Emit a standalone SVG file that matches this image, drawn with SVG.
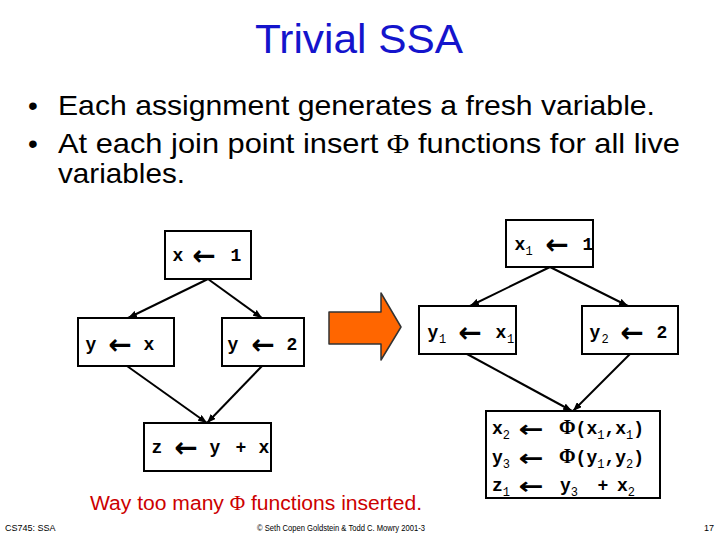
<svg xmlns="http://www.w3.org/2000/svg" width="720" height="540" viewBox="0 0 720 540">
<style>
.box{fill:#fff;stroke:#000;stroke-width:2}
.edge{stroke:#000;stroke-width:2;fill:none;marker-end:url(#ah)}
.c{font-family:"Liberation Mono","Courier New",monospace;font-weight:bold;font-size:18px;fill:#000;text-anchor:middle}
.s{text-anchor:start}
.ar{font-family:"DejaVu Sans",sans-serif;font-weight:bold;font-size:28px}
.ar2{font-family:"DejaVu Sans",sans-serif;font-weight:bold;font-size:23px}
.sb{font-size:12px;font-weight:normal}
.ph{font-family:"Liberation Serif",serif;font-weight:bold;font-size:20px}
.body{font-family:"Liberation Sans",Arial,sans-serif;font-size:28px;fill:#000}
.foot{font-family:"Liberation Sans",Arial,sans-serif;font-size:9px;fill:#000}
</style>
<defs>
<marker id="ah" markerUnits="userSpaceOnUse" markerWidth="9" markerHeight="7" refX="9" refY="3.5" orient="auto">
<path d="M0,0 L9,3.5 L0,7 z" fill="#000"/>
</marker>
</defs>
<rect width="720" height="540" fill="#fff"/>
<text x="359" y="53" font-family="Liberation Sans, Arial, sans-serif" font-size="40" fill="#1414cc" text-anchor="middle" textLength="208" lengthAdjust="spacingAndGlyphs">Trivial SSA</text>
<g id="bullets">
<text class="body" x="33" y="115" text-anchor="middle" font-size="20">•</text>
<text class="body" x="58" y="115" textLength="597" lengthAdjust="spacingAndGlyphs">Each assignment generates a fresh variable.</text>
<text class="body" x="33" y="153" text-anchor="middle" font-size="20">•</text>
<text class="body" x="58" y="153" textLength="622" lengthAdjust="spacingAndGlyphs">At each join point insert <tspan font-family="Liberation Serif, serif">Φ</tspan> functions for all live</text>
<text class="body" x="58" y="183" textLength="127" lengthAdjust="spacingAndGlyphs">variables.</text>
</g>
<g id="connectors">
<line class="edge" x1="208" y1="279" x2="128" y2="318"/>
<line class="edge" x1="208" y1="279" x2="262" y2="318"/>
<line class="edge" x1="127" y1="366" x2="207" y2="423"/>
<line class="edge" x1="262" y1="366" x2="207" y2="423"/>
<line class="edge" x1="550" y1="267" x2="470" y2="306"/>
<line class="edge" x1="550" y1="267" x2="628" y2="306"/>
<line class="edge" x1="467" y1="354" x2="572" y2="411"/>
<line class="edge" x1="630" y1="354" x2="573" y2="411"/>
</g>
<g id="L1">
<rect class="box" x="165" y="231" width="86" height="48"/>
<text class="c"><tspan x="178" y="261">x</tspan><tspan class="ar" x="204" y="265">←</tspan><tspan x="236" y="261">1</tspan></text>
</g>
<g id="L2">
<rect class="box" x="78" y="318" width="96" height="48"/>
<text class="c"><tspan x="91" y="350">y</tspan><tspan class="ar" x="120" y="354">←</tspan><tspan x="149" y="350">x</tspan></text>
</g>
<g id="L3">
<rect class="box" x="222" y="318" width="82" height="48"/>
<text class="c"><tspan x="233" y="350">y</tspan><tspan class="ar" x="263" y="354">←</tspan><tspan x="292" y="350">2</tspan></text>
</g>
<g id="L4">
<rect class="box" x="144" y="423" width="127" height="48"/>
<text class="c"><tspan x="157" y="453">z</tspan><tspan class="ar" x="186" y="457">←</tspan><tspan x="215" y="453">y</tspan><tspan x="241" y="453">+</tspan><tspan x="264" y="453">x</tspan></text>
</g>
<g id="bigArrow">
<polygon points="329,312 381,312 381,293 401,327 381,360 381,344 329,344" fill="#ff6600" stroke="#333" stroke-width="1.5" stroke-linejoin="round"/>
</g>
<g id="R1">
<rect class="box" x="506" y="220" width="87" height="47"/>
<text class="c"><tspan x="520" y="250">x</tspan><tspan class="sb" x="529" y="255">1</tspan><tspan class="ar" x="557" y="254">←</tspan><tspan x="588" y="250">1</tspan></text>
</g>
<g id="R2">
<rect class="box" x="419" y="306" width="97" height="48"/>
<text class="c"><tspan x="433" y="338">y</tspan><tspan class="sb" x="442.5" y="343">1</tspan><tspan class="ar" x="470" y="342">←</tspan><tspan x="501" y="338">x</tspan><tspan class="sb" x="510.5" y="343">1</tspan></text>
</g>
<g id="R3">
<rect class="box" x="582" y="306" width="96" height="48"/>
<text class="c"><tspan x="595" y="338">y</tspan><tspan class="sb" x="605" y="343">2</tspan><tspan class="ar" x="632" y="342">←</tspan><tspan x="662" y="338">2</tspan></text>
</g>
<g id="R4">
<rect class="box" x="486" y="411" width="174" height="87"/>
<text class="c s" x="492" y="434">x<tspan class="sb" dy="5">2</tspan></text>
<text class="c ar2" transform="translate(531,437) scale(1.3,1)">←</text>
<text class="c s" x="559" y="434"><tspan class="ph">Φ</tspan>(x<tspan class="sb" dy="5">1</tspan><tspan dy="-5">,x</tspan><tspan class="sb" dy="5">1</tspan><tspan dy="-5">)</tspan></text>
<text class="c s" x="492" y="463">y<tspan class="sb" dy="5">3</tspan></text>
<text class="c ar2" transform="translate(531,466) scale(1.3,1)">←</text>
<text class="c s" x="559" y="463"><tspan class="ph">Φ</tspan>(y<tspan class="sb" dy="5">1</tspan><tspan dy="-5">,y</tspan><tspan class="sb" dy="5">2</tspan><tspan dy="-5">)</tspan></text>
<text class="c s" x="492" y="491">z<tspan class="sb" dy="5">1</tspan></text>
<text class="c ar2" transform="translate(531,494) scale(1.3,1)">←</text>
<text class="c s" x="560" y="491">y<tspan class="sb" dy="5">3</tspan></text>
<text class="c" x="603" y="491">+</text>
<text class="c s" x="617" y="491">x<tspan class="sb" dy="5">2</tspan></text>
</g>
<text x="90" y="510" font-family="Liberation Sans, Arial, sans-serif" font-size="20" fill="#cc0000" textLength="332" lengthAdjust="spacingAndGlyphs">Way too many <tspan font-family="Liberation Serif, serif">Φ</tspan> functions inserted.</text>
<text class="foot" x="5" y="531">CS745: SSA</text>
<text class="foot" x="257" y="531" textLength="168" lengthAdjust="spacingAndGlyphs">© Seth Copen Goldstein &amp; Todd C. Mowry 2001-3</text>
<text class="foot" x="704" y="531">17</text>
</svg>
